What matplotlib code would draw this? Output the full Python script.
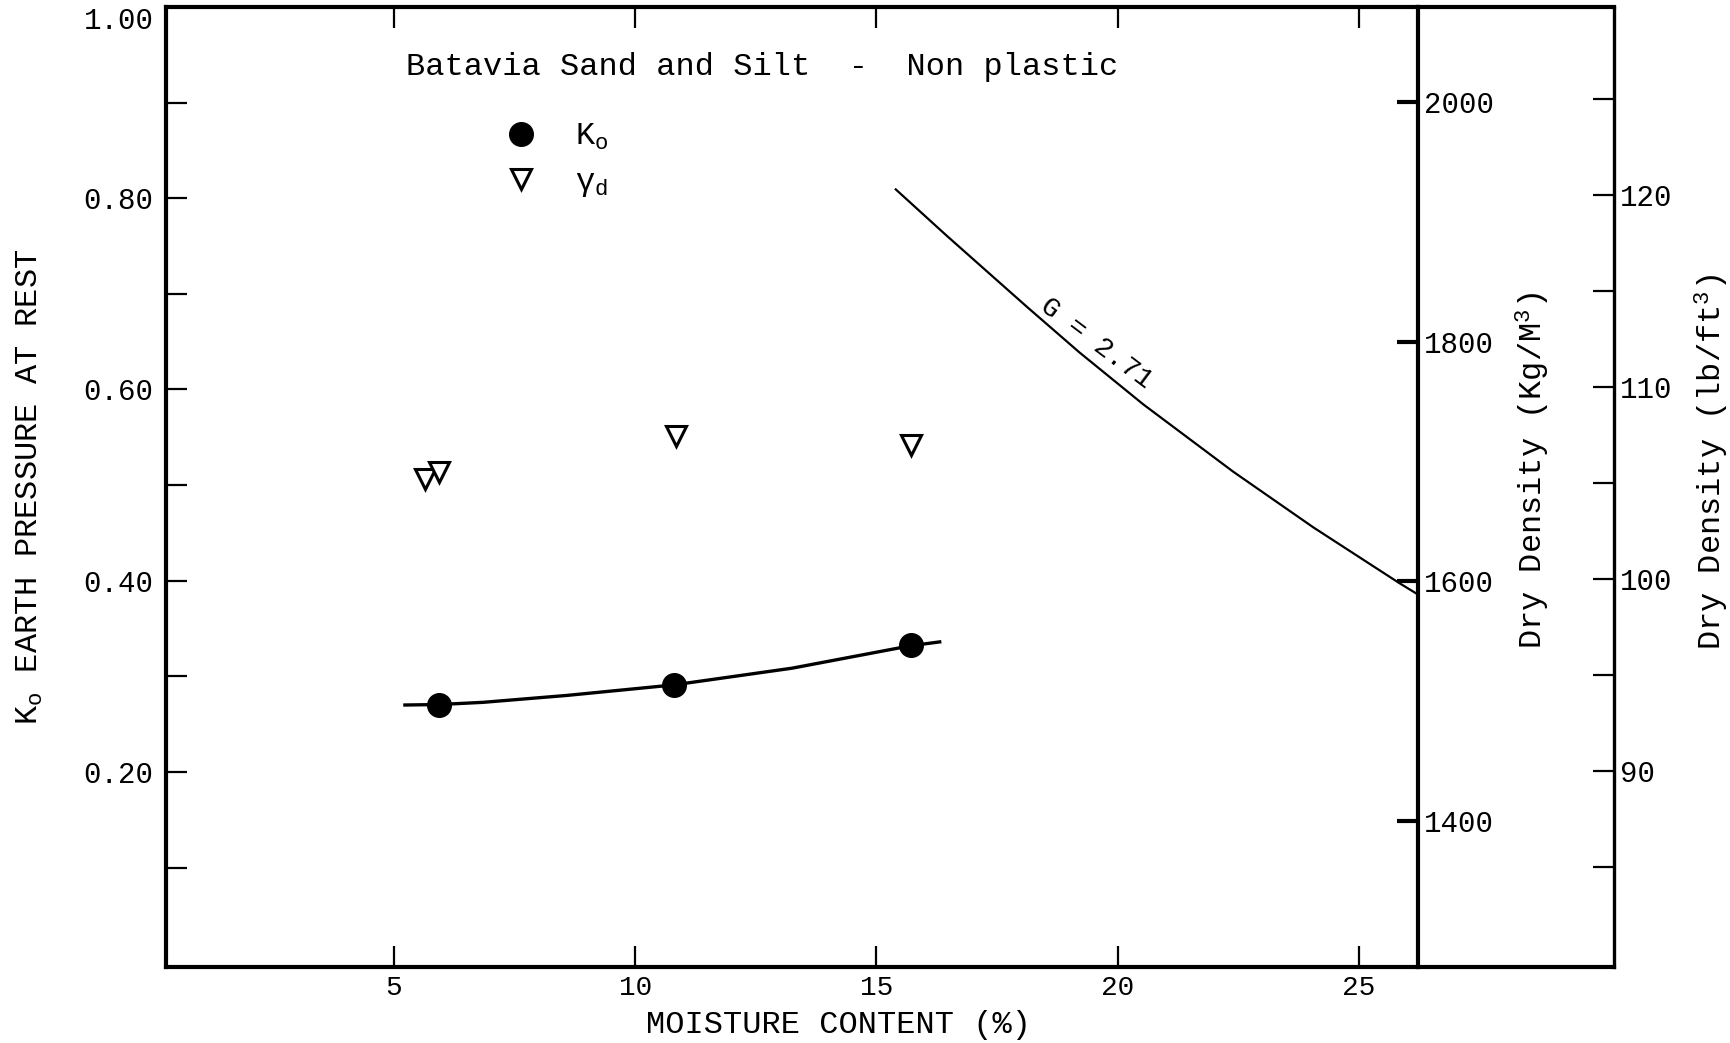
import matplotlib
matplotlib.use("Agg")
import matplotlib.pyplot as plt

# ---------------- data ----------------
moisture_ko = [5.94, 10.80, 15.71]          # moisture content (%)
ko_values = [0.270, 0.291, 0.333]           # K0

moisture_gd = [5.65, 5.93, 10.85, 15.72]    # moisture content (%)
gamma_d_pcf = [105.2, 105.6, 107.45, 107.0] # dry density (lb/ft3)

ko_fit_w = [5.23, 5.94, 6.85, 8.58, 10.80, 13.25, 15.71, 16.31]
ko_fit_k = [0.270, 0.2705, 0.2728, 0.2800, 0.291, 0.3085, 0.332, 0.336]

zav_w = [15.40, 16.45, 18.11, 19.21, 20.53, 22.39, 24.05, 25.83, 26.22]
zav_pcf = [120.3, 117.9, 114.2, 111.8, 109.1, 105.6, 102.7, 99.8, 99.2]

x_ticks = [5, 10, 15, 20, 25]
x_tick_labels = ["5", "10", "15", "20", "25"]
ko_ticks = [0.2, 0.4, 0.6, 0.8, 1.0]
ko_tick_labels = ["0.20", "0.40", "0.60", "0.80", "1.00"]
ko_minor_ticks = [0.1, 0.3, 0.5, 0.7, 0.9]
kg_ticks = [1400, 1600, 1800, 2000]
kg_tick_labels = ["1400", "1600", "1800", "2000"]
pcf_ticks = [90, 100, 110, 120]
pcf_tick_labels = ["90", "100", "110", "120"]
pcf_minor_ticks = [85, 95, 105, 115, 125]

KO_MIN, KO_MAX = -0.004, 0.996
PCF_MIN, PCF_MAX = 79.8, 129.8
PCF_TO_KGM3 = 16.018

# ---------------- style ----------------
plt.rcParams['font.family'] = ['Liberation Mono', 'DejaVu Sans']
plt.rcParams['mathtext.fontset'] = 'custom'
plt.rcParams['mathtext.rm'] = 'Liberation Mono'
plt.rcParams['mathtext.it'] = 'Liberation Mono'
plt.rcParams['mathtext.default'] = 'regular'

W, H = 1730, 1043
fig = plt.figure(figsize=(W / 100, H / 100), dpi=100)
fig.patch.set_facecolor('white')

L, R, T, B = 166, 1418, 7, 967
R2 = 1614

# lb/ft3 axis at the outer right (created first so it sits underneath)
ax3 = fig.add_axes([R / W, 1 - B / H, (R2 - R) / W, (B - T) / H])
ax3.patch.set_visible(False)
ax3.set_ylim(PCF_MIN, PCF_MAX)
ax3.set_xticks([])
ax3.spines['left'].set_visible(False)
for k in ('top', 'bottom'):
    ax3.spines[k].set_linewidth(3)
ax3.spines['right'].set_linewidth(2.4)
ax3.yaxis.tick_right()
ax3.yaxis.set_label_position('right')
ax3.set_yticks(pcf_ticks)
ax3.set_yticklabels(pcf_tick_labels, fontsize=21)
ax3.set_yticks(pcf_minor_ticks, minor=True)
ax3.tick_params(axis='y', which='both', direction='in', length=15, width=1.6, pad=4)
ax3.set_ylabel("Dry Density (lb/ft$^3$)", fontsize=23)
ax3.yaxis.set_label_coords(1.40, 0.526)

ax = fig.add_axes([L / W, 1 - B / H, (R - L) / W, (B - T) / H])
ax.patch.set_visible(False)
ax.set_xlim(0.28, 26.22)
ax.set_ylim(KO_MIN, KO_MAX)

for s in ax.spines.values():
    s.set_linewidth(3)
    s.set_color('black')

ax.set_xticks(x_ticks)
ax.set_xticklabels(x_tick_labels, fontsize=20)
ax.set_yticks(ko_ticks)
ax.set_yticklabels(ko_tick_labels, fontsize=21)
ax.set_yticks(ko_minor_ticks, minor=True)
ax.tick_params(axis='both', which='both', direction='in', length=15, width=1.6,
               top=True, right=False)
ax.tick_params(axis='y', which='major', pad=9)
ax.tick_params(axis='x', which='major', pad=6)
ax.get_yticklabels()[-1].set_va('top')

ax.set_xlabel("MOISTURE CONTENT (%)", fontsize=23)
ax.xaxis.set_label_coords(0.537, -0.045)
ax.set_ylabel("$K_o$ EARTH PRESSURE AT REST", fontsize=23)
ax.yaxis.set_label_coords(-0.097, 0.50)

# K0 data and fitted curve
ax.plot(ko_fit_w, ko_fit_k, color='black', lw=2.4, zorder=3)
ko_pts, = ax.plot(moisture_ko, ko_values, linestyle='none', marker='o', ms=17,
                  color='black', zorder=4)

# density twin (lb/ft3) for plotting
axd = ax.twinx()
axd.set_ylim(PCF_MIN, PCF_MAX)
axd.set_yticks([])
for s in axd.spines.values():
    s.set_visible(False)
gd_pts, = axd.plot(moisture_gd, gamma_d_pcf, linestyle='none', marker='v', ms=15,
                   mfc='white', mec='black', mew=2.2, zorder=4)
axd.plot(zav_w, zav_pcf, color='black', lw=1.6)
axd.text(19.56, 112.3, "G = 2.71", fontsize=20,
         rotation=-37, rotation_mode='anchor', ha='center', va='center')

# kg/m3 axis at the inner right spine
axk = ax.twinx()
axk.set_ylim(PCF_MIN * PCF_TO_KGM3, PCF_MAX * PCF_TO_KGM3)
for s in axk.spines.values():
    s.set_visible(False)
axk.set_yticks(kg_ticks)
axk.set_yticklabels(kg_tick_labels, fontsize=21)
axk.tick_params(axis='y', direction='in', length=15, width=3, pad=4)
axk.set_ylabel("Dry Density (Kg/M$^3$)", fontsize=23)
axk.yaxis.set_label_coords(1.0767, 0.517)

# annotation and legend
ax.text(5.25, 0.937, "Batavia Sand and Silt  -  Non plastic", fontsize=23,
        ha='left', va='center')
ax.legend([ko_pts, gd_pts], ["$K_o$", "$\\gamma_d$"], loc='upper left',
          bbox_to_anchor=(0.2708, 0.880), frameon=False, fontsize=23,
          handlelength=1.0, handletextpad=1.2, labelspacing=0.47,
          borderpad=0, borderaxespad=0)

fig.savefig("out.png", dpi=100, facecolor='white')
